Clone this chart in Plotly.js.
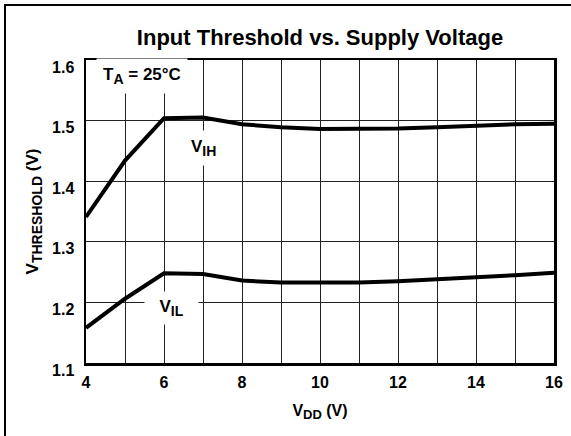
<!DOCTYPE html>
<html>
<head>
<meta charset="utf-8">
<script src="https://cdn.plot.ly/plotly-3.0.1.min.js"></script>
<style>
  html, body { margin: 0; padding: 0; background: #fff; overflow: hidden; }
  #wrap { position: relative; width: 571px; height: 436px; overflow: hidden; }
  #chart { width: 571px; height: 436px; }
  #frame { position: absolute; left: 4px; top: 4px; width: 700px; height: 700px;
           border: 2px solid #000; pointer-events: none; }
</style>
</head>
<body>
<div id="wrap">
  <div id="chart"></div>
  <div id="frame"></div>
</div>
<script>
const vdd = [4, 5, 6, 7, 8, 9, 10, 11, 12, 13, 14, 15, 16];
const vih = [1.341, 1.434, 1.504, 1.505, 1.494, 1.489, 1.486, 1.486, 1.487, 1.489, 1.492, 1.494, 1.495];
const vil = [1.158, 1.206, 1.248, 1.247, 1.236, 1.233, 1.233, 1.233, 1.235, 1.238, 1.241, 1.245, 1.249];
const xTicks = [4, 6, 8, 10, 12, 14, 16];
const yTicks = [1.1, 1.2, 1.3, 1.4, 1.5, 1.6];

const FONT = 'Liberation Sans, Arial, Helvetica, sans-serif';
const sub = (s, px) => '<sub><span style="font-size:' + px + 'px">' + s + '</span></sub>';

const traces = [
  { x: vdd, y: vih, mode: 'lines', line: { color: '#000', width: 4 }, hoverinfo: 'skip', showlegend: false },
  { x: vdd, y: vil, mode: 'lines', line: { color: '#000', width: 4 }, hoverinfo: 'skip', showlegend: false }
];

const layout = {
  width: 571, height: 436,
  margin: { l: 86, r: 17, t: 60, b: 73 },
  paper_bgcolor: '#fff', plot_bgcolor: '#fff',
  font: { family: FONT, size: 16, color: '#000', weight: 'bold' },
  title: { text: 'Input Threshold vs. Supply Voltage', x: 0.5, xref: 'paper', y: 0.915, yanchor: 'middle',
           font: { family: FONT, size: 22, color: '#000', weight: 'bold' } },
  xaxis: {
    range: [4, 16], tickvals: xTicks, ticktext: xTicks.map(String),
    showgrid: true, gridcolor: '#222', gridwidth: 1,
    minor: { dtick: 1, showgrid: true, gridcolor: '#222', gridwidth: 1 },
    showline: true, mirror: true, linecolor: '#000', linewidth: 2.5,
    ticks: '', zeroline: false, ticklabelstandoff: 3,
    tickfont: { family: FONT, size: 16, weight: 'bold' },
    title: { text: 'V' + sub('DD', 13) + ' (V)', standoff: 15, font: { family: FONT, size: 16, weight: 'bold' } }
  },
  yaxis: {
    range: [1.1, 1.6], tickvals: yTicks, ticktext: yTicks.map(v => v.toFixed(1)),
    showgrid: true, gridcolor: '#222', gridwidth: 1,
    showline: true, mirror: true, linecolor: '#000', linewidth: 2.5,
    ticks: '', zeroline: false, ticklabelstandoff: 6, ticklabelshift: 7,
    tickfont: { family: FONT, size: 16, weight: 'bold' },
    title: { text: 'V' + sub('THRESHOLD', 14) + ' (V)', standoff: 9, font: { family: FONT, size: 17, weight: 'bold' } }
  },
  annotations: [
    { x: 0.022, y: 0.947, xref: 'paper', yref: 'paper', xanchor: 'left', yanchor: 'middle',
      text: 'T' + sub('A', 14) + ' = 25°C', showarrow: false, bgcolor: '#fff', borderpad: 6,
      font: { family: FONT, size: 17, weight: 'bold' } },
    { x: 7.0, y: 1.455, xref: 'x', yref: 'y', text: 'V' + sub('IH', 14), showarrow: false,
      bgcolor: '#fff', borderpad: 6, font: { family: FONT, size: 17, weight: 'bold' } },
    { x: 6.2, y: 1.19, xref: 'x', yref: 'y', text: '&nbsp;&nbsp;V' + sub('IL', 14) + '&nbsp;&nbsp;', showarrow: false,
      bgcolor: '#fff', borderpad: 5, font: { family: FONT, size: 17, weight: 'bold' } }
  ]
};

Plotly.newPlot('chart', traces, layout, { staticPlot: true, displayModeBar: false });
</script>
</body>
</html>
